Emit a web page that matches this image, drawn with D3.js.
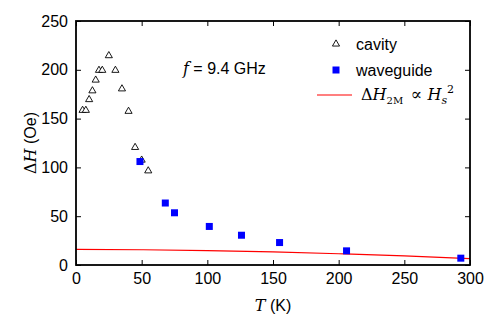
<!DOCTYPE html>
<html>
<head>
<meta charset="utf-8">
<script src="https://cdn.jsdelivr.net/npm/d3@7"></script>
<style>
body { margin: 0; background: #fff; }
text { font-family: "Liberation Sans", Arial, sans-serif; }
</style>
</head>
<body>
<svg id="chart" width="498" height="329"></svg>
<script>
// cavity data (T in K, linewidth in Oe)
var cavityT = [5, 7.5, 10, 12.5, 15, 17.5, 20, 25, 30, 35, 40, 45, 50, 55];
var cavityH = [159, 159, 170, 179, 190, 200, 200, 215, 200, 181, 158, 121, 108, 97];

// waveguide data
var guideT = [48.7, 68, 75, 101.5, 126, 155, 206, 293];
var guideH = [106, 63.5, 53.5, 39.5, 30.5, 23, 14.5, 7];

// two-magnon fit line
var fitT = [0, 50, 100, 150, 200, 250, 300];
var fitH = [16, 15.6, 14.7, 13.4, 11.6, 9.4, 6.5];

var xTicks = [0, 50, 100, 150, 200, 250, 300];
var yTicks = [0, 50, 100, 150, 200, 250];

var margin = {left: 76, right: 28, top: 21, bottom: 64};
var W = 498, H = 329;

var svg = d3.select("#chart");
var x = d3.scaleLinear().domain([0, 300]).range([margin.left, W - margin.right]);
var y = d3.scaleLinear().domain([0, 250]).range([H - margin.bottom, margin.top]);

var tickLen = 5;

// fit line (drawn first, under markers)
var line = d3.line().x(function(d) { return x(d[0]); }).y(function(d) { return y(d[1]); }).curve(d3.curveMonotoneX);
svg.append("path")
    .datum(d3.zip(fitT, fitH))
    .attr("d", line)
    .attr("fill", "none")
    .attr("stroke", "#ff0000")
    .attr("stroke-width", 1.1);

// axes with inward ticks on all sides
var axB = d3.axisBottom(x).tickValues(xTicks).tickSizeInner(-tickLen).tickSizeOuter(0).tickPadding(8);
var axT = d3.axisTop(x).tickValues(xTicks).tickSizeInner(-tickLen).tickSizeOuter(0).tickFormat("");
var axL = d3.axisLeft(y).tickValues(yTicks).tickSizeInner(-tickLen).tickSizeOuter(0).tickPadding(8);
var axR = d3.axisRight(y).tickValues(yTicks).tickSizeInner(-tickLen).tickSizeOuter(0).tickFormat("");

var gB = svg.append("g").attr("transform", "translate(0," + y(0) + ")").call(axB);
var gT = svg.append("g").attr("transform", "translate(0," + y(250) + ")").call(axT);
var gL = svg.append("g").attr("transform", "translate(" + x(0) + ",0)").call(axL);
var gR = svg.append("g").attr("transform", "translate(" + x(300) + ",0)").call(axR);

[gB, gT, gL, gR].forEach(function(g) {
    g.selectAll("path").remove();
    g.selectAll("line").attr("stroke", "#000").attr("stroke-width", 1);
    g.selectAll("text").attr("fill", "#000").style("font-size", "16px")
        .style("font-family", "'Liberation Sans', Arial, sans-serif");
});
// frame
svg.append("rect")
    .attr("x", x(0)).attr("y", y(250))
    .attr("width", x(300) - x(0)).attr("height", y(0) - y(250))
    .attr("fill", "none").attr("stroke", "#000").attr("stroke-width", 1.8);

// markers
var tri = d3.symbol().type(d3.symbolTriangle).size(22);
svg.append("g").selectAll("path")
    .data(d3.zip(cavityT, cavityH))
    .enter().append("path")
    .attr("d", tri)
    .attr("transform", function(d) { return "translate(" + x(d[0]) + "," + (y(d[1]) + 0.5) + ")"; })
    .attr("fill", "#fff")
    .attr("stroke", "#000")
    .attr("stroke-width", 0.9);

svg.append("g").selectAll("rect")
    .data(d3.zip(guideT, guideH))
    .enter().append("rect")
    .attr("x", function(d) { return x(d[0]) - 3.5; })
    .attr("y", function(d) { return y(d[1]) - 3.5; })
    .attr("width", 7).attr("height", 7)
    .attr("fill", "#0000ff");

// annotation
var ann = svg.append("text").attr("x", 183).attr("y", 74).style("font-size", "16px");
ann.append("tspan").text("f").style("font-family", "'DejaVu Serif', serif").style("font-style", "italic");
ann.append("tspan").text(" = 9.4 GHz");

// legend
var lg = svg.append("g");
lg.append("path").attr("d", tri)
    .attr("transform", "translate(336,44)")
    .attr("fill", "#fff").attr("stroke", "#000").attr("stroke-width", 0.9);
lg.append("text").attr("x", 356).attr("y", 50).text("cavity").style("font-size", "16px");
lg.append("rect").attr("x", 332.5).attr("y", 66.5).attr("width", 7).attr("height", 7).attr("fill", "#0000ff");
lg.append("text").attr("x", 356).attr("y", 76).text("waveguide").style("font-size", "16px");
lg.append("line").attr("x1", 317).attr("x2", 352).attr("y1", 95).attr("y2", 95)
    .attr("stroke", "#ff0000").attr("stroke-width", 1.1);
var mt = lg.append("text").attr("x", 361).attr("y", 100)
    .style("font-family", "'DejaVu Serif', serif").style("font-size", "16px");
mt.append("tspan").text("Δ");
mt.append("tspan").text("H").style("font-style", "italic");
mt.append("tspan").text("2M").attr("dy", 4).style("font-size", "10px");
mt.append("tspan").text(" ∝ ").attr("dy", -4).attr("dx", 2).style("font-size", "17px");
mt.append("tspan").text("H").style("font-style", "italic");
mt.append("tspan").text("s").attr("dy", 4).style("font-size", "11px").style("font-style", "italic");
mt.append("tspan").text("2").attr("dy", -11).attr("dx", 0).style("font-size", "11px");

// axis labels
var xl = svg.append("text").attr("x", 273).attr("y", 311).attr("text-anchor", "middle").style("font-size", "16px");
xl.append("tspan").text("T").style("font-family", "'DejaVu Serif', serif").style("font-style", "italic");
xl.append("tspan").text(" (K)");

var yl = svg.append("text").attr("transform", "translate(36,143) rotate(-90)").attr("text-anchor", "middle").style("font-size", "16px");
yl.append("tspan").text("Δ").style("font-family", "'DejaVu Serif', serif");
yl.append("tspan").text("H").style("font-family", "'DejaVu Serif', serif").style("font-style", "italic");
yl.append("tspan").text(" (Oe)");
</script>
</body>
</html>
